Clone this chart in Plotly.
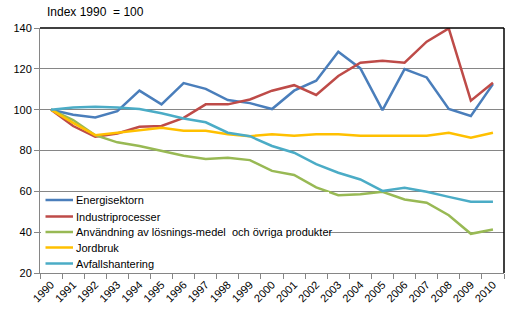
import plotly.graph_objects as go

years = [str(y) for y in range(1990, 2011)]
energi = [100, 97.5, 96.2, 99.3, 109.3, 102.6, 113.0, 110.2, 104.7, 103.2, 100.3, 109.3, 114.2, 128.4, 120.2, 99.8, 119.9, 115.8, 100.3, 96.9, 112.5]
industri = [100, 92.0, 86.7, 88.3, 91.6, 92.0, 96.0, 102.6, 102.6, 105.0, 109.3, 112.0, 107.2, 116.5, 123.0, 124.0, 123.0, 133.3, 139.8, 104.4, 113.2]
anvandning = [100, 94.9, 87.5, 84.0, 82.2, 79.9, 77.4, 75.8, 76.4, 75.3, 70.0, 68.0, 61.9, 58.1, 58.6, 59.8, 56.0, 54.4, 48.3, 39.2, 41.3]
jordbruk = [100, 93.5, 87.5, 88.7, 89.7, 91.1, 89.7, 89.7, 88.0, 87.0, 88.0, 87.2, 88.0, 88.0, 87.2, 87.2, 87.2, 87.2, 88.7, 86.2, 88.7]
avfall = [100, 101.1, 101.4, 101.1, 100.3, 98.2, 95.7, 93.8, 88.7, 87.0, 82.2, 78.9, 73.3, 69.1, 65.8, 60.2, 61.7, 59.8, 57.3, 54.9, 54.9]

names = ["Energisektorn", "Industriprocesser",
         "Användning av lösnings-medel  och övriga produkter",
         "Jordbruk", "Avfallshantering"]
series = [energi, industri, anvandning, jordbruk, avfall]
colors = ["#4A7EBB", "#BE4B48", "#98B954", "#FFC000", "#4BACC6"]

# plot-area geometry (pixels) used for placing the hand-built legend
L, R, T, B = 40, 504, 28, 273
W, H = R - L, B - T
def px(x): return (x - L) / W
def py(y): return (B - y) / H

fig = go.Figure()
for n, s, c in zip(names, series, colors):
    fig.add_trace(go.Scatter(x=years, y=s, name=n, mode="lines",
                             line=dict(color=c, width=2.5), showlegend=False))

font = "Liberation Sans, Arial, sans-serif"
shapes = [
    dict(type="rect", xref="paper", yref="paper", x0=px(41), x1=px(329),
         y0=py(272), y1=py(192), fillcolor="white", line=dict(width=0), layer="above"),
    dict(type="line", xref="paper", yref="paper", x0=0, x1=1, y0=1, y1=1,
         line=dict(color="black", width=1.5)),
    dict(type="line", xref="paper", yref="paper", x0=1, x1=1, y0=0, y1=1,
         line=dict(color="black", width=1.5)),
]
annotations = [dict(text="Index 1990  = 100", xref="paper", yref="paper",
                    x=px(45), y=1.0, xanchor="left", yanchor="bottom", yshift=7,
                    showarrow=False, font=dict(size=12, color="black"))]
rows = [200, 216.5, 232, 247.5, 263.5]
for n, c, yy in zip(names, colors, rows):
    shapes.append(dict(type="line", xref="paper", yref="paper", x0=px(45.5), x1=px(73),
                       y0=py(yy), y1=py(yy), line=dict(color=c, width=2.5), layer="above"))
    annotations.append(dict(text=n, xref="paper", yref="paper", x=px(74), y=py(yy),
                            xanchor="left", yanchor="middle", showarrow=False,
                            font=dict(size=11, color="black")))

fig.update_layout(
    width=513, height=323,
    margin=dict(l=L, r=513 - R, t=T, b=323 - B),
    paper_bgcolor="white", plot_bgcolor="white",
    font=dict(family=font, size=11, color="black"),
    showlegend=False,
    xaxis=dict(type="category", tickson="boundaries", ticks="outside", ticklen=5,
               tickcolor="#868686", showline=True, linecolor="#868686", linewidth=1,
               showgrid=False, tickangle=-45, tickfont=dict(size=11),
               range=[-0.5, 20.5]),
    yaxis=dict(range=[20, 140], dtick=20, ticks="outside", ticklen=5,
               tickcolor="#868686", showline=True, linecolor="#868686", linewidth=1,
               showgrid=True, gridcolor="#868686", gridwidth=1, zeroline=False,
               tickfont=dict(size=11)),
    annotations=annotations,
    shapes=shapes,
)
fig.write_html("out.html")
